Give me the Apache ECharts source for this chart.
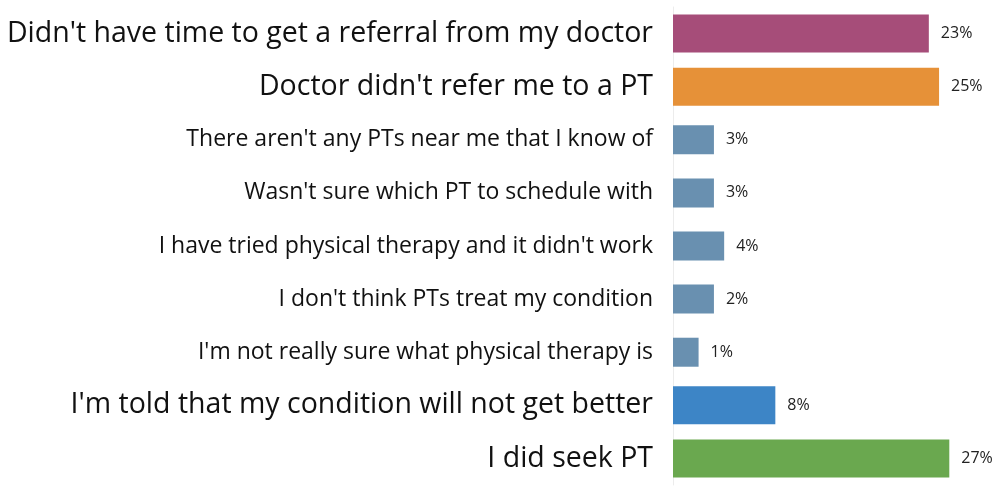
<!DOCTYPE html>
<html>
<head>
    <meta charset="utf-8">
    <title>Reasons for not seeing a PT</title>
    <script src="https://cdn.jsdelivr.net/npm/echarts@6/dist/echarts.min.js"></script>
    <style>
        html, body { margin: 0; padding: 0; background: #fff; }
    </style>
</head>
<body>
    <div id="main" style="width: 1000px;height:492px;"></div>
    <script type="text/javascript">
        // categories, top to bottom
        var reasons = [
            "Didn't have time to get a referral from my doctor",
            "Doctor didn't refer me to a PT",
            "There aren't any PTs near me that I know of",
            "Wasn't sure which PT to schedule with",
            "I have tried physical therapy and it didn't work",
            "I don't think PTs treat my condition",
            "I'm not really sure what physical therapy is",
            "I'm told that my condition will not get better",
            "I did seek PT"
        ];
        // bar lengths
        var barValues = [25, 26, 4, 4, 5, 4, 2.5, 10, 27];
        // printed value labels
        var shareLabels = ['23%', '25%', '3%', '3%', '4%', '2%', '1%', '8%', '27%'];
        // which rows are drawn large
        var bigRows = [true, true, false, false, false, false, false, true, true];
        var barColors = ['#a64d79', '#e69138', '#6990b0', '#6990b0', '#6990b0', '#6990b0', '#6990b0', '#3d85c6', '#6aa84f'];

        var myChart = echarts.init(document.getElementById('main'));

        function pick(big) {
            return barValues.map(function (v, i) {
                if (bigRows[i] !== big) return '-';
                return { value: v, itemStyle: { color: barColors[i] } };
            });
        }

        var labelOpt = {
            show: true,
            position: 'right',
            distance: 12,
            fontFamily: 'Open Sans',
            fontSize: 16,
            color: '#222',
            formatter: function (p) { return shareLabels[p.dataIndex]; }
        };

        var option = {
            animation: false,
            grid: { left: 673, right: 20, top: 7, bottom: 7 },
            xAxis: {
                type: 'value',
                min: 0,
                max: 30,
                show: false
            },
            yAxis: [
                {
                    type: 'category',
                    inverse: true,
                    data: reasons.map(function (r, i) {
                        return { value: r, textStyle: { fontSize: bigRows[i] ? 28.5 : 23 } };
                    }),
                    axisLine: { show: true, lineStyle: { color: '#ececec', width: 1 } },
                    axisTick: { show: false },
                    axisLabel: {
                        margin: 20,
                        color: '#111',
                        fontFamily: 'Open Sans'
                    }
                },
                {
                    // twin axis so the thinner bars centre on their own rows
                    type: 'category',
                    inverse: true,
                    position: 'left',
                    data: reasons,
                    show: false
                }
            ],
            series: [
                {
                    name: 'big',
                    type: 'bar',
                    yAxisIndex: 0,
                    barWidth: 38,
                    data: pick(true),
                    label: labelOpt
                },
                {
                    name: 'small',
                    type: 'bar',
                    yAxisIndex: 1,
                    barWidth: 29,
                    data: pick(false),
                    label: labelOpt
                }
            ]
        };

        myChart.setOption(option);
    </script>
</body>
</html>
